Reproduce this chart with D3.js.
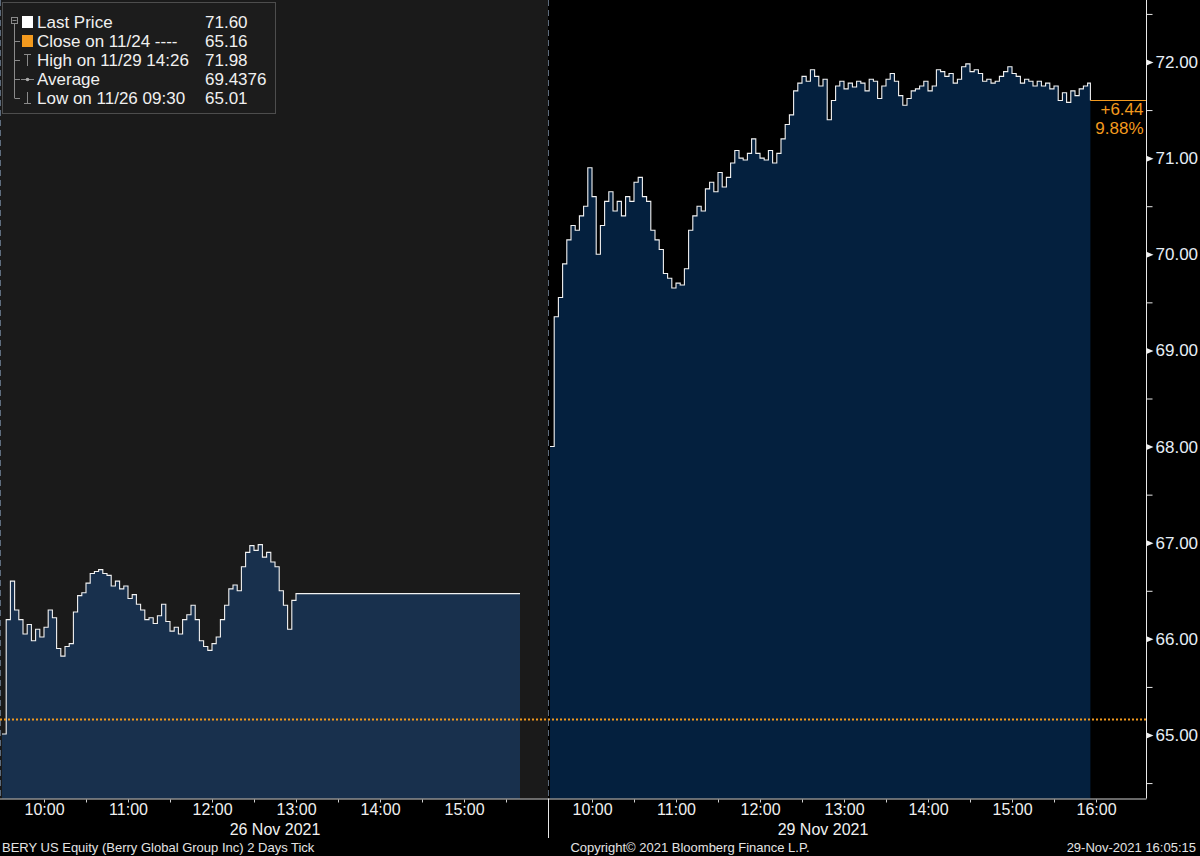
<!DOCTYPE html>
<html>
<head>
<meta charset="utf-8">
<script src="https://cdn.jsdelivr.net/npm/d3@7"></script>
<style>
  body { margin: 0; background: #000; }
  svg { display: block; font-family: "Liberation Sans", Arial, sans-serif; }
</style>
</head>
<body>
<div id="chart"></div>
<script>
// BERY intraday, two sessions (3 minute samples)
let stepMin = 3;

let nov26Open = "2021-11-26 09:30";
let nov26Prices = [65.01, 66.20, 66.60, 66.30, 66.20, 66.05, 66.15, 65.98, 66.10, 66.02,
    66.12, 66.30, 66.22, 65.90, 65.82, 65.92, 65.95, 66.28, 66.45, 66.48,
    66.58, 66.68, 66.70, 66.72, 66.68, 66.66, 66.55, 66.60, 66.52, 66.55,
    66.42, 66.46, 66.36, 66.30, 66.20, 66.22, 66.16, 66.24, 66.36, 66.18,
    66.08, 66.12, 66.05, 66.20, 66.25, 66.35, 66.20, 65.98, 65.92, 65.88,
    65.95, 66.02, 66.20, 66.35, 66.52, 66.56, 66.50, 66.75, 66.90, 66.97,
    66.92, 66.98, 66.85, 66.90, 66.80, 66.75, 66.50, 66.35, 66.10, 66.40,
    66.47];
let nov26End = "2021-11-26 15:40";

let nov29Open = "2021-11-29 09:30";
let nov29Prices = [68.00, 69.35, 69.55, 69.90, 70.15, 70.30, 70.25, 70.40, 70.50, 70.90,
    70.60, 70.00, 70.30, 70.55, 70.65, 70.45, 70.55, 70.40, 70.60, 70.55,
    70.75, 70.80, 70.60, 70.55, 70.25, 70.15, 70.05, 69.80, 69.75, 69.65,
    69.70, 69.68, 69.85, 70.25, 70.40, 70.50, 70.45, 70.68, 70.75, 70.65,
    70.85, 70.70, 70.80, 70.95, 71.08, 71.00, 70.98, 71.05, 71.20, 71.05,
    71.00, 70.98, 71.08, 70.95, 71.05, 71.20, 71.35, 71.45, 71.70, 71.78,
    71.85, 71.80, 71.92, 71.85, 71.75, 71.82, 71.40, 71.60, 71.75, 71.80,
    71.72, 71.78, 71.74, 71.80, 71.78, 71.70, 71.82, 71.80, 71.62, 71.75,
    71.82, 71.88, 71.80, 71.65, 71.55, 71.62, 71.70, 71.72, 71.75, 71.80,
    71.70, 71.75, 71.92, 71.90, 71.85, 71.88, 71.78, 71.82, 71.95, 71.98,
    71.90, 71.92, 71.88, 71.80, 71.82, 71.78, 71.80, 71.85, 71.90, 71.95,
    71.88, 71.85, 71.78, 71.82, 71.80, 71.75, 71.80, 71.75, 71.78, 71.72,
    71.75, 71.60, 71.68, 71.58, 71.70, 71.65, 71.72, 71.75, 71.78];
let nov29End = "2021-11-29 15:56";
let lastPrice = 71.60;
let prevClose = 65.16;

let priceTicks = [65, 66, 67, 68, 69, 70, 71, 72];
let priceMinor = [64.5, 65.5, 66.5, 67.5, 68.5, 69.5, 70.5, 71.5, 72.5];

let legendLabels = ["Last Price", "Close on 11/24 ----", "High on 11/29 14:26", "Average", "Low on 11/26 09:30"];
let legendValues = ["71.60", "65.16", "71.98", "69.4376", "65.01"];

let width = 1200, height = 856;
let plotBottom = 798.5, axisX = 1146.5;
let orange = "#f39a1e";

let svg = d3.select("#chart").append("svg")
    .attr("width", width)
    .attr("height", height);

let parse = d3.timeParse("%Y-%m-%d %H:%M");

function buildRows(open, prices, endStr, endPrice) {
    let t0 = parse(open);
    let rows = prices.map((p, i) => ({t: d3.timeMinute.offset(t0, i * stepMin), p: p}));
    rows.push({t: parse(endStr), p: endPrice});
    return rows;
}

let rows26 = buildRows(nov26Open, nov26Prices, nov26End, nov26Prices[nov26Prices.length - 1]);
let rows29 = buildRows(nov29Open, nov29Prices, nov29End, lastPrice);

// scales
let y = d3.scaleLinear().domain([65, 72]).range([735, 62]);
let x26 = d3.scaleTime()
    .domain([parse("2021-11-26 09:30"), parse("2021-11-26 16:00")])
    .range([2, 548]);
let x29 = d3.scaleTime()
    .domain([parse("2021-11-29 09:30"), parse("2021-11-29 16:00")])
    .range([550, 1096]);

// backgrounds
svg.append("rect").attr("width", width).attr("height", height).attr("fill", "#000");
svg.append("rect")
    .attr("x", 0).attr("y", 0)
    .attr("width", x26.range()[1]).attr("height", plotBottom)
    .attr("fill", "#1a1a1a");

function drawSession(rows, x, fill) {
    let area = d3.area()
        .curve(d3.curveStepAfter)
        .x(d => x(d.t))
        .y0(plotBottom)
        .y1(d => y(d.p));
    let line = d3.line()
        .curve(d3.curveStepAfter)
        .x(d => x(d.t))
        .y(d => y(d.p));
    svg.append("path").datum(rows).attr("d", area).attr("fill", fill);
    svg.append("path").datum(rows).attr("d", line)
        .attr("fill", "none")
        .attr("stroke", "#f2f2f2")
        .attr("stroke-width", 1.1);
}

drawSession(rows26, x26, "#18304d");
drawSession(rows29, x29, "#04203e");

// session separators
[0.5, 548.5].forEach(sx => {
    svg.append("line")
        .attr("x1", sx).attr("x2", sx)
        .attr("y1", 0).attr("y2", plotBottom)
        .attr("stroke", "#5d6b7c")
        .attr("stroke-dasharray", "6,4");
});

// previous close, dotted
svg.append("line")
    .attr("x1", 0).attr("x2", axisX)
    .attr("y1", y(prevClose)).attr("y2", y(prevClose))
    .attr("stroke", orange)
    .attr("stroke-width", 2)
    .attr("stroke-dasharray", "2,2");

// last price marker
let lastRow = rows29[rows29.length - 1];
svg.append("line")
    .attr("x1", x29(lastRow.t)).attr("x2", axisX)
    .attr("y1", Math.round(y(lastPrice)) + 0.5).attr("y2", Math.round(y(lastPrice)) + 0.5)
    .attr("stroke", orange);
svg.append("text")
    .attr("x", axisX - 3).attr("y", y(lastPrice) + 15)
    .attr("text-anchor", "end").attr("fill", orange).attr("font-size", 17)
    .text("+" + d3.format(".2f")(lastPrice - prevClose));
svg.append("text")
    .attr("x", axisX - 3).attr("y", y(lastPrice) + 34)
    .attr("text-anchor", "end").attr("fill", orange).attr("font-size", 17)
    .text(d3.format(".2f")((lastPrice - prevClose) / prevClose * 100) + "%");

// right price axis
svg.append("line")
    .attr("x1", axisX).attr("x2", axisX)
    .attr("y1", 0).attr("y2", plotBottom)
    .attr("stroke", "#e8e8e8");

let minorG = svg.append("g").attr("transform", "translate(" + axisX + ",0)")
    .call(d3.axisRight(y).tickValues(priceMinor).tickSize(6).tickFormat(""));
minorG.select(".domain").remove();
minorG.selectAll("line").attr("stroke", "#e8e8e8");

let yG = svg.append("g").attr("transform", "translate(" + axisX + ",0)")
    .call(d3.axisRight(y).tickValues(priceTicks).tickSize(0).tickPadding(9).tickFormat(d3.format(".2f")));
yG.select(".domain").remove();
yG.selectAll("text")
    .attr("fill", "#e6eef6")
    .attr("font-size", 17)
    .attr("font-family", "'Liberation Sans', Arial, sans-serif");
yG.selectAll(".tick").append("path")
    .attr("d", "M0,-3L7,0L0,3Z")
    .attr("fill", "#f0f0f0");

// bottom time axis strip
svg.append("line")
    .attr("x1", 0).attr("x2", axisX)
    .attr("y1", plotBottom + 0.5).attr("y2", plotBottom + 0.5)
    .attr("stroke", "#cfcfcf");
svg.append("line")
    .attr("x1", 548.5).attr("x2", 548.5)
    .attr("y1", plotBottom).attr("y2", 838)
    .attr("stroke", "#e8e8e8");

let hourFmt = d3.timeFormat("%H:%M");
function drawTimeAxis(x, lastHour, dateLabel) {
    let d0 = x.domain()[0];
    let halfHours = d3.timeMinute.every(30).range(d3.timeMinute.offset(d0, 30), d3.timeMinute.offset(x.domain()[1], 1))
        .filter(t => x(t) < x.range()[1] - 1 || lastHour);
    let hours = halfHours.filter(t => t.getMinutes() === 0);

    let tg = svg.append("g").attr("transform", "translate(0," + (plotBottom + 1) + ")")
        .call(d3.axisBottom(x).tickValues(halfHours).tickSize(3).tickFormat(""));
    tg.select(".domain").remove();
    tg.selectAll("line").attr("stroke", "#cfcfcf");

    let lg = svg.append("g").attr("transform", "translate(0," + (plotBottom + 1) + ")")
        .call(d3.axisBottom(x).tickValues(hours).tickSize(0).tickPadding(4).tickFormat(hourFmt));
    lg.select(".domain").remove();
    lg.selectAll("text")
        .attr("fill", "#f0f0f0")
        .attr("font-size", 16)
        .attr("font-family", "'Liberation Sans', Arial, sans-serif");

    svg.append("text")
        .attr("x", (x.range()[0] + x.range()[1]) / 2)
        .attr("y", 835)
        .attr("text-anchor", "middle")
        .attr("fill", "#f0f0f0")
        .attr("font-size", 16)
        .text(dateLabel);
}
drawTimeAxis(x26, false, "26 Nov 2021");
drawTimeAxis(x29, true, "29 Nov 2021");

// footer
let footer = svg.append("g").attr("font-size", 13).attr("fill", "#e4e4e4");
footer.append("text").attr("x", 2).attr("y", 852)
    .text("BERY US Equity (Berry Global Group Inc) 2 Days  Tick");
footer.append("text").attr("x", 690).attr("y", 852).attr("text-anchor", "middle")
    .text("Copyright\u00a9 2021 Bloomberg Finance L.P.");
footer.append("text").attr("x", 1196).attr("y", 852).attr("text-anchor", "end")
    .text("29-Nov-2021 16:05:15");

// legend
let lg = svg.append("g");
lg.append("rect")
    .attr("x", 2.5).attr("y", 2.5).attr("width", 273).attr("height", 111)
    .attr("fill", "#1c1c1c")
    .attr("stroke", "#4d4d4d");

let rowY = d3.scalePoint().domain(d3.range(legendLabels.length)).range([22, 98]);
let grey = "#8a8a8a";

// tree connector
lg.append("rect").attr("x", 11.5).attr("y", 17.5).attr("width", 6).attr("height", 6)
    .attr("fill", "none").attr("stroke", grey);
lg.append("line").attr("x1", 12.5).attr("x2", 16.5).attr("y1", 20.5).attr("y2", 20.5).attr("stroke", grey);
lg.append("line").attr("x1", 14.5).attr("x2", 14.5).attr("y1", 24).attr("y2", rowY(4)).attr("stroke", grey);
d3.range(1, 5).forEach(i => {
    lg.append("line").attr("x1", 14.5).attr("x2", 20).attr("y1", rowY(i) + 0.5).attr("y2", rowY(i) + 0.5).attr("stroke", grey);
});

// symbols
lg.append("rect").attr("x", 22).attr("y", rowY(0) - 6).attr("width", 11).attr("height", 12).attr("fill", "#fff");
lg.append("rect").attr("x", 22).attr("y", rowY(1) - 6).attr("width", 11).attr("height", 12).attr("fill", orange);
lg.append("path").attr("d", "M24," + (rowY(2) - 5.5) + "H31M27.5," + (rowY(2) - 5.5) + "V" + (rowY(2) + 6))
    .attr("stroke", grey).attr("fill", "none");
lg.append("path").attr("d", "M21," + (rowY(3) + 0.5) + "H34")
    .attr("stroke", grey).attr("fill", "none");
lg.append("circle").attr("cx", 27.5).attr("cy", rowY(3) + 0.5).attr("r", 1.8).attr("fill", "#aaa");
lg.append("path").attr("d", "M24," + (rowY(4) + 5.5) + "H31M27.5," + (rowY(4) + 5.5) + "V" + (rowY(4) - 6))
    .attr("stroke", grey).attr("fill", "none");

lg.selectAll(".lab").data(legendLabels).enter().append("text")
    .attr("class", "lab")
    .attr("x", 37).attr("y", (d, i) => rowY(i) + 6)
    .attr("fill", "#f0f0f0").attr("font-size", 17)
    .text(d => d);
lg.selectAll(".val").data(legendValues).enter().append("text")
    .attr("class", "val")
    .attr("x", 205).attr("y", (d, i) => rowY(i) + 6)
    .attr("fill", "#f0f0f0").attr("font-size", 17)
    .text(d => d);
</script>
</body>
</html>
